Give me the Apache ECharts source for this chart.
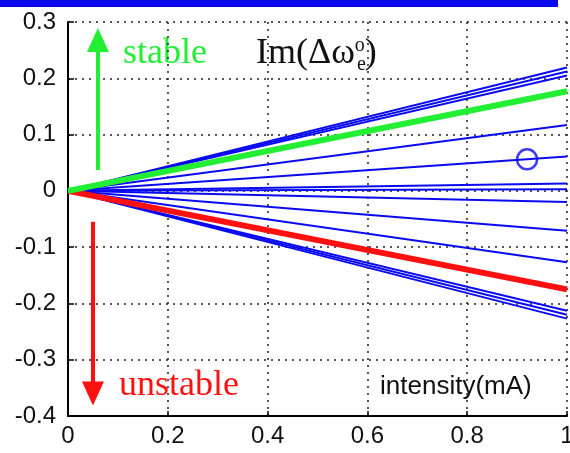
<!DOCTYPE html>
<html>
<head>
<meta charset="utf-8">
<script src="https://cdn.jsdelivr.net/npm/echarts@6/dist/echarts.min.js"></script>
<style>
  html, body { margin: 0; padding: 0; background: #fff; }
  #myChart { width: 570px; height: 453px; }
</style>
</head>
<body>
<div id="myChart"></div>
<script>
// slopes: value of each line at intensity = 1
var blueEnds = [0.219, 0.212, 0.205, 0.117, 0.061, 0.013, 0.003, -0.02, -0.071, -0.127, -0.213, -0.22, -0.227];
var greenEnd = 0.177;
var redEnd = -0.175;
var circlePoint = [0.92, 0.056];
var xTicks = [0, 0.2, 0.4, 0.6, 0.8, 1];
var yTicks = [-0.4, -0.3, -0.2, -0.1, 0, 0.1, 0.2, 0.3];

var chart = echarts.init(document.getElementById("myChart"));

var series = [];
blueEnds.forEach(function (v, i) {
    series.push({
        name: "b" + i,
        type: "line",
        data: [[0, 0], [1, v]],
        showSymbol: false,
        silent: true,
        lineStyle: { color: "#0a0af0", width: 2 },
        z: 2
    });
});
series.push({
    type: "line",
    data: [[0, 0], [1, redEnd]],
    showSymbol: false,
    lineStyle: { color: "#ff1010", width: 6 },
    z: 3,
    markLine: {
        silent: true,
        symbol: ["none", "triangle"],
        symbolSize: [22, 24],
        label: { show: false },
        lineStyle: { color: "#ff1010", width: 4, type: "solid" },
        data: [[{ coord: [0.05, -0.055] }, { coord: [0.05, -0.36] }]]
    }
});
series.push({
    type: "line",
    data: [[0, 0], [1, greenEnd]],
    showSymbol: false,
    lineStyle: { color: "#22ee33", width: 6 },
    z: 4,
    markLine: {
        silent: true,
        symbol: ["none", "triangle"],
        symbolSize: [22, 24],
        label: { show: false },
        lineStyle: { color: "#22ee33", width: 4, type: "solid" },
        data: [[{ coord: [0.06, 0.037] }, { coord: [0.06, 0.268] }]]
    }
});
series.push({
    type: "scatter",
    data: [circlePoint],
    symbol: "circle",
    symbolSize: 20,
    itemStyle: { color: "rgba(0,0,0,0)", borderColor: "#0a0af0", borderWidth: 2.5 },
    z: 5
});

var gridStyle = { show: true, lineStyle: { color: "#222", width: 1.5, type: [2, 5] } };
var tickFmt = function (v) {
    var r = Math.round(v * 10) / 10;
    return r === 0 ? "0" : (r === 1 ? "1" : r.toFixed(1));
};

chart.setOption({
    animation: false,
    backgroundColor: "#fff",
    grid: { left: 68, right: 3, top: 22, bottom: 37, containLabel: false, outerBoundsMode: "none" },
    xAxis: {
        type: "value",
        min: xTicks[0],
        max: xTicks[xTicks.length - 1],
        interval: 0.2,
        axisLine: { onZero: false, lineStyle: { color: "#000", width: 2 } },
        axisTick: { inside: true, length: 5, lineStyle: { color: "#000", width: 1.5 } },
        axisLabel: { color: "#111", fontSize: 24, fontFamily: "Liberation Sans", margin: 8, formatter: tickFmt },
        splitLine: gridStyle
    },
    yAxis: {
        type: "value",
        min: yTicks[0],
        max: yTicks[yTicks.length - 1],
        interval: 0.1,
        axisLine: { show: true, onZero: false, lineStyle: { color: "#000", width: 2 } },
        axisTick: { show: true, inside: true, length: 6, lineStyle: { color: "#000", width: 1.5 } },
        axisLabel: { color: "#111", fontSize: 24, fontFamily: "Liberation Sans", margin: 12, formatter: tickFmt },
        splitLine: gridStyle
    },
    graphic: [
        { type: "rect", left: 0, top: 0, shape: { width: 558, height: 7 }, style: { fill: "#0a0aee" } },
        { type: "text", left: 123, top: 36, style: { text: "stable", fill: "#22ee33", font: "36px 'Liberation Serif'" } },
        { type: "text", left: 119, top: 368, style: { text: "unstable", fill: "#ff1010", font: "36px 'Liberation Serif'" } },
        {
            type: "text", left: 256, top: 36,
            style: {
                text: "{a|Im(Δω}{s|o}{a|)}",
                rich: {
                    a: { fill: "#111", fontSize: 36, fontFamily: "Liberation Serif" },
                    s: { fill: "#111", fontSize: 20, fontFamily: "Liberation Serif", verticalAlign: "top" }
                }
            }
        },
        { type: "text", left: 357, top: 55, style: { text: "e", fill: "#111", font: "20px 'Liberation Serif'" } },
        { type: "text", left: 380, top: 374, style: { text: "intensity(mA)", fill: "#111", font: "26px 'Liberation Sans'" } }
    ],
    series: series
});
</script>
</body>
</html>
